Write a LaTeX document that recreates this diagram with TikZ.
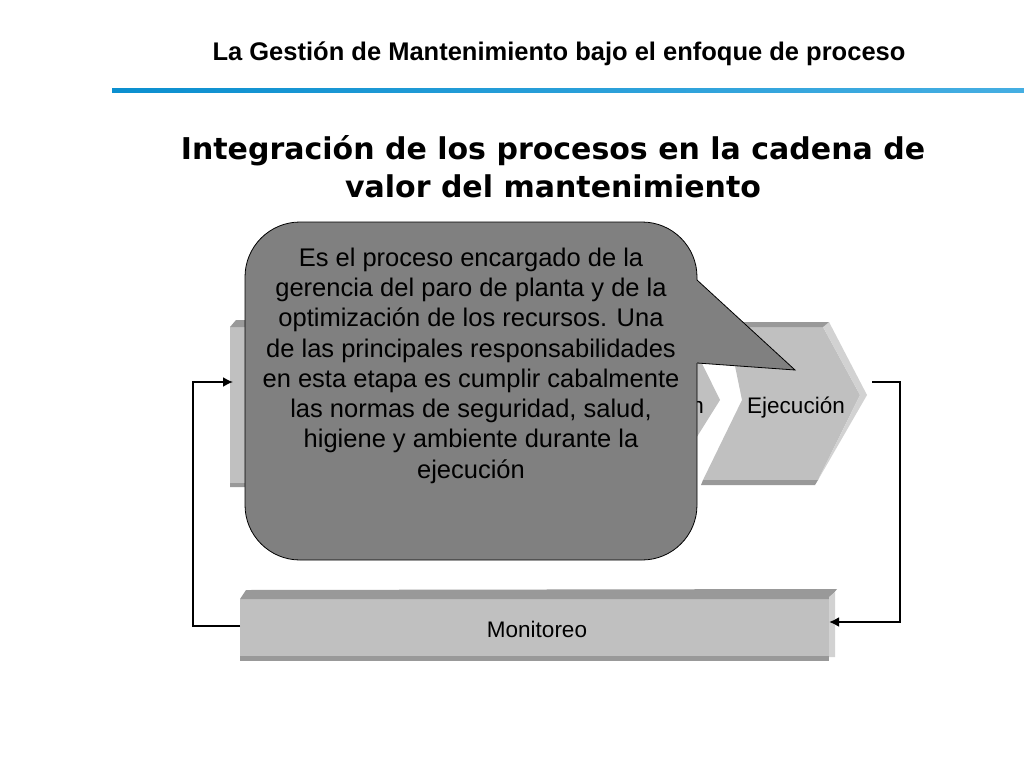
\documentclass[tikz,border=0pt]{standalone}
\usepackage{fontspec}
\setmainfont{Liberation Sans}
\newfontfamily\titlefont{DejaVu Sans}
\usetikzlibrary{arrows.meta}
\definecolor{blockgray}{HTML}{C0C0C0}
\definecolor{stripgray}{HTML}{999999}
\definecolor{facegray}{HTML}{D2D2D2}
\definecolor{calloutgray}{HTML}{808080}
\definecolor{headblue}{HTML}{0B8FCF}
\definecolor{headblueL}{HTML}{45AEE2}
\tikzset{
  block/.style={fill=blockgray, draw=none},
  strip/.style={fill=stripgray, draw=none},
  face/.style={fill=facegray, draw=none},
  blocklabel/.style={font=\fontsize{22.5}{26}\selectfont, inner sep=0pt, text=black},
  titletext/.style={font=\titlefont\bfseries\fontsize{30}{38}\selectfont, anchor=base, inner sep=0pt},
  conn/.style={draw=black, line width=1.7pt},
  connthick/.style={draw=black, line width=2.7pt},
  tip/.style={-{Latex[length=10pt,width=10pt]}},
  calloutbody/.style={fill=calloutgray, draw=black, line width=0.8pt, rounded corners=55pt},
  callouttext/.style={font=\fontsize{25.5}{30.3}\selectfont, align=center, inner sep=0pt, text=black},
}
\begin{document}
\begin{tikzpicture}[x=1pt,y=-1pt]
\useasboundingbox (0,0) rectangle (1024,768);
\fill[white] (0,0) rectangle (1024,768);

% header
\node[font=\bfseries\fontsize{25.5}{30}\selectfont, anchor=base, inner sep=0pt] (header) at (559,60) {La Gestión de Mantenimiento bajo el enfoque de proceso};
\shade[left color=headblue, right color=headblueL] (112,88) rectangle (1024,92);

% title
\node[titletext] (title1) at (553,159) {Integración de los procesos en la cadena de};
\node[titletext] (title2) at (553,197) {valor del mantenimiento};

% first process block (mostly hidden)
\path[block] (230,327) -- (684,327) -- (720,400) -- (668,483) -- (230,483) -- cycle;
\path[strip] (230,327) -- (236,320) -- (690,320) -- (684,327) -- cycle;
\path[strip] (230,483) -- (668,483) -- (666,487) -- (230,487) -- cycle;
\node[blocklabel, anchor=base east] (prevlabel) at (704,413) {n};

% Ejecucion chevron
\path[block] (727,327) -- (823,327) -- (860,395) -- (818,480) -- (703,480) -- (742,400) -- cycle;
\path[face] (823,327) -- (829,322) -- (867,395) -- (818,480) -- (860,395) -- cycle;
\path[strip] (727,327) -- (734,322) -- (829,322) -- (823,327) -- cycle;
\path[strip] (703,480) -- (818,480) -- (815,485) -- (701,485) -- cycle;
\node[blocklabel, anchor=base] (ejec) at (796,413) {Ejecución};

% Monitoreo bar
\path[block] (240,599) rectangle (829,656);
\path[strip] (240,599) -- (246,590) -- (837,589) -- (829,599) -- cycle;
\path[face] (829,597) -- (835,592) -- (835,657) -- (829,657) -- cycle;
\path[strip] (240,656) rectangle (829,661);
\node[blocklabel, anchor=base] (mon) at (537,637) {Monitoreo};

% connector coordinates
\coordinate (ejeout) at (872,382);
\coordinate (rc) at (900,382);
\coordinate (monin) at (829,622);
\coordinate (monout) at (240,626);
\coordinate (lc) at (193,382);
\coordinate (firstin) at (233,382);

\draw[connthick, tip] (ejeout) -- (rc) |- (monin);
\draw[conn, tip] (monout) -| (lc) -- (firstin);

% callout
\path[calloutbody] (245,222) rectangle (697,560);
\fill[calloutgray] (690,280) -- (697,280) -- (795,370) -- (697,363) -- (690,363) -- cycle;
\draw[black, line width=0.8pt, line join=miter] (697,280) -- (795,370) -- (697,363);
\node[callouttext, anchor=north] (callout) at (471,247.5) {Es el proceso encargado de la\\gerencia del paro de planta y de la\\optimización de los recursos. Una\\de las principales responsabilidades\\en esta etapa es cumplir cabalmente\\las normas de seguridad, salud,\\higiene y ambiente durante la\\ejecución};
\end{tikzpicture}
\end{document}
